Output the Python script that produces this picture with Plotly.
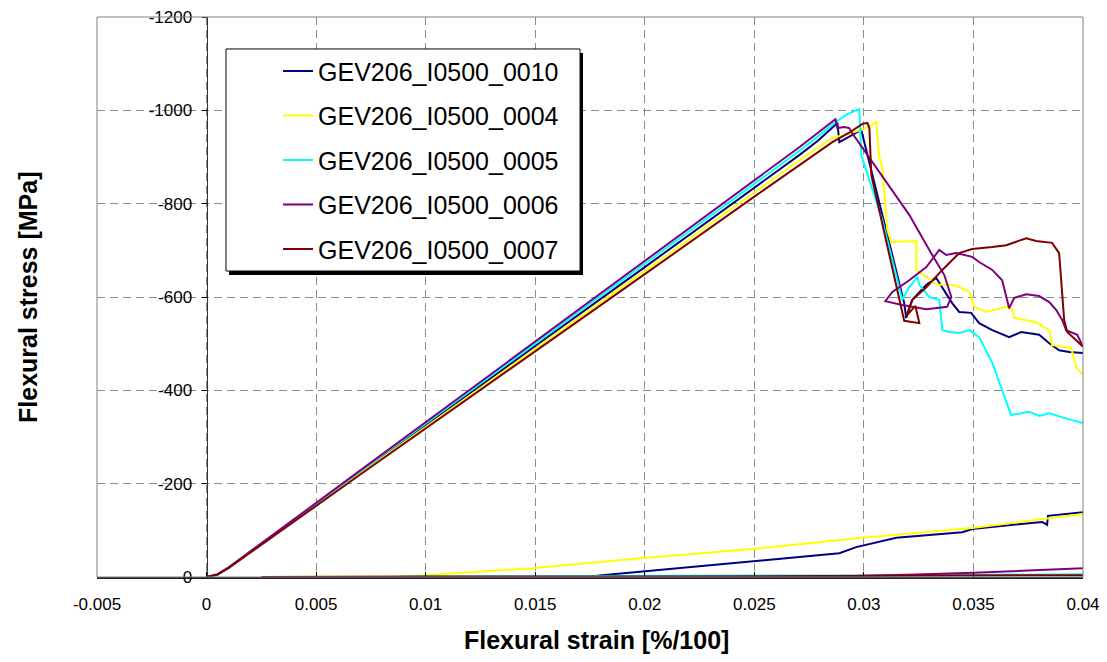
import plotly.graph_objects as go

# ---------------- data ----------------
SERIES_NAMES = ["GEV206_I0500_0010", "GEV206_I0500_0004", "GEV206_I0500_0005",
                "GEV206_I0500_0006", "GEV206_I0500_0007"]
COLORS = ["#000080", "#FFFF00", "#00FFFF", "#800080", "#800000"]

X_TICKS = [-0.005, 0, 0.005, 0.01, 0.015, 0.02, 0.025, 0.03, 0.035, 0.04]
X_TICK_LABELS = ["-0.005", "0", "0.005", "0.01", "0.015", "0.02", "0.025", "0.03", "0.035", "0.04"]
Y_TICKS = [0, -200, -400, -600, -800, -1000, -1200]
Y_TICK_LABELS = ["0", "-200", "-400", "-600", "-800", "-1000", "-1200"]

# GEV206_I0500_0010
X_0010 = [0, 0.0005, 0.001, 0.002, 0.004, 0.007, 0.01, 0.015, 0.02, 0.025, 0.02705, 0.0279,
          0.02879, 0.02888, 0.02947, 0.02988, 0.03184, 0.03193, 0.03221, 0.03285, 0.0333,
          0.03358, 0.03403, 0.03435, 0.0349, 0.03526, 0.03586, 0.03663, 0.03718, 0.038,
          0.03846, 0.03891, 0.03937, 0.04]
Y_0010 = [0, -5, -20, -54, -122, -224, -325, -495, -664, -834, -904, -935,
          -973, -932, -947, -958, -587, -555, -594, -626, -641,
          -621, -587, -568, -566, -544, -529, -514, -525, -519,
          -501, -486, -482, -480]
X_0010_RET = [0.04, 0.0384, 0.03836, 0.03814, 0.03495, 0.03449, 0.03148, 0.02965, 0.02888,
              0.02491, 0.01975, 0.01793, 0.0175]
Y_0010_RET = [-139, -131, -112, -118, -103, -96, -84, -64, -51, -34, -11, -3, 0]

# GEV206_I0500_0004
X_0004 = [0, 0.0005, 0.001, 0.002, 0.004, 0.007, 0.01, 0.015, 0.02, 0.025, 0.02705, 0.02856,
          0.02933, 0.03011, 0.03057, 0.0307, 0.03084, 0.03107, 0.03125, 0.03239, 0.03239,
          0.03285, 0.03335, 0.03403, 0.03435, 0.03481, 0.03504, 0.03558, 0.0365, 0.03677,
          0.03686, 0.03786, 0.03846, 0.03859, 0.03946, 0.03969, 0.04]
Y_0004 = [0, -5, -20, -54, -121, -221, -321, -489, -656, -824, -893, -941,
          -950, -962, -975, -900, -879, -744, -718, -720, -658,
          -643, -626, -626, -621, -611, -579, -568, -579, -572,
          -555, -546, -529, -497, -491, -450, -433]
X_0004_RET = [0.04, 0.03495, 0.02993, 0.02491, 0.02007, 0.01487, 0.01, 0.0088, 0.00265]
Y_0004_RET = [-135, -105, -84, -60, -41, -19, -4, -1, 0]

# GEV206_I0500_0005
X_0005 = [0, 0.0005, 0.001, 0.002, 0.004, 0.007, 0.01, 0.015, 0.02, 0.025, 0.02705, 0.0288,
          0.02924, 0.02947, 0.02979, 0.02988, 0.03084, 0.03175, 0.03207, 0.03244, 0.03253,
          0.03298, 0.03344, 0.03358, 0.0339, 0.03435, 0.03481, 0.03526, 0.03586, 0.03672,
          0.03754, 0.038, 0.03846, 0.03914, 0.04]
Y_0005 = [0, -5, -20, -55, -123, -226, -329, -500, -671, -843, -913, -978,
          -992, -996, -1003, -904, -765, -594, -621, -643, -626,
          -600, -594, -529, -525, -523, -529, -514, -459, -347,
          -354, -345, -351, -341, -330]
X_0005_RET = [0.04, 0.035, 0.03, 0.025, 0.02, 0.015, 0.0088]
Y_0005_RET = [-6, -4, -3, -3, -2, -2, -1]

# GEV206_I0500_0006
X_0006 = [0, 0.0005, 0.001, 0.002, 0.004, 0.007, 0.01, 0.015, 0.02, 0.025, 0.02705, 0.0287,
          0.02879, 0.0291, 0.02933, 0.02947, 0.03079, 0.03207, 0.03298, 0.03367, 0.03399,
          0.0338, 0.03285, 0.03175, 0.03098, 0.0313, 0.03207, 0.03285, 0.03344, 0.03358,
          0.03376, 0.03421, 0.03494, 0.03526, 0.03586, 0.03631, 0.03663, 0.03686, 0.03741,
          0.038, 0.03846, 0.03878, 0.03905, 0.03923, 0.03974, 0.04]
Y_0006 = [0, -6, -20, -55, -124, -228, -332, -505, -677, -850, -921, -981,
          -962, -964, -962, -951, -861, -776, -701, -647, -600,
          -579, -574, -583, -591, -611, -636, -664, -701, -696,
          -690, -694, -686, -675, -658, -636, -576, -598, -606,
          -602, -589, -572, -551, -529, -519, -493]
X_0006_RET = [0.04, 0.0375, 0.035, 0.032, 0.03, 0.0285, 0.025]
Y_0006_RET = [-19, -14, -9, -5, -3, -1, 0]

# GEV206_I0500_0007
X_0007 = [0, 0.0005, 0.001, 0.002, 0.004, 0.007, 0.01, 0.015, 0.02, 0.025, 0.02705, 0.02856,
          0.02933, 0.02993, 0.03016, 0.03025, 0.03034, 0.03184, 0.03253, 0.03235, 0.03193,
          0.03221, 0.03285, 0.03358, 0.03435, 0.03494, 0.03586, 0.0365, 0.03741, 0.03786,
          0.03859, 0.03891, 0.03914, 0.03928, 0.03992, 0.04]
Y_0007 = [0, -5, -19, -53, -119, -219, -318, -484, -649, -815, -883, -932,
          -952, -971, -973, -962, -861, -549, -544, -581, -559,
          -594, -621, -658, -694, -703, -707, -711, -726, -720,
          -716, -694, -551, -525, -497, -493]
X_0007_RET = [0.04, 0.035, 0.03, 0.02, 0.01, 0.0025]
Y_0007_RET = [-4, -3, -2, -1, -1, 0]

SERIES = [
    (X_0010, Y_0010, X_0010_RET, Y_0010_RET),
    (X_0004, Y_0004, X_0004_RET, Y_0004_RET),
    (X_0005, Y_0005, X_0005_RET, Y_0005_RET),
    (X_0006, Y_0006, X_0006_RET, Y_0006_RET),
    (X_0007, Y_0007, X_0007_RET, Y_0007_RET),
]

FONT = "Liberation Sans, Arial, sans-serif"

# ---------------- figure ----------------
fig = go.Figure()
for name, color, (xs, ys, xr, yr) in zip(SERIES_NAMES, COLORS, SERIES):
    fig.add_trace(go.Scatter(
        x=xs + [None] + xr, y=ys + [None] + yr,
        mode="lines", name=name, legendgroup=name,
        line=dict(color=color, width=2), connectgaps=False,
    ))

grid_style = dict(showgrid=True, gridcolor="#8c8c8c", gridwidth=1, griddash="8px,5px")

fig.update_layout(
    width=1107, height=662,
    margin=dict(l=97, r=24, t=17, b=85, autoexpand=False),
    paper_bgcolor="white", plot_bgcolor="white",
    font=dict(family=FONT, color="black"),
    showlegend=True,
    legend=dict(
        x=0.1836, y=0.944, xanchor="left", yanchor="top",
        bgcolor="rgba(0,0,0,0)", borderwidth=0,
        font=dict(size=25, family=FONT, color="black"),
        traceorder="grouped", tracegroupgap=9, itemwidth=30,
    ),
    xaxis=dict(
        range=[-0.005, 0.04], tickmode="array", tickvals=X_TICKS, ticktext=X_TICK_LABELS,
        ticks="inside", ticklen=5, tickcolor="black", automargin=False,
        showline=True, linecolor="#222222", linewidth=2,
        zeroline=False, tickfont=dict(size=17, family=FONT), ticklabelstandoff=11,
        **grid_style,
    ),
    yaxis=dict(
        range=[0, -1200], tickmode="array", tickvals=Y_TICKS, ticktext=Y_TICK_LABELS,
        anchor="free", position=1 / 9, automargin=False,
        ticks="outside", ticklen=5, tickcolor="black",
        showline=True, linecolor="#333333", linewidth=1,
        zeroline=False, tickfont=dict(size=17, family=FONT), ticklabelstandoff=6,
        **grid_style,
    ),
    shapes=[
        # plot-area border
        dict(type="rect", xref="paper", yref="paper", x0=0, x1=1, y0=0, y1=1,
             line=dict(color="#808080", width=1), fillcolor="rgba(0,0,0,0)", layer="above"),
        # legend shadow
        dict(type="rect", xref="paper", yref="paper", x0=0.1339, x1=0.4929, y0=0.5393, y1=0.9357,
             line=dict(width=0), fillcolor="black", layer="above"),
        # legend box
        dict(type="rect", xref="paper", yref="paper", x0=0.1308, x1=0.4899, y0=0.5464, y1=0.9429,
             line=dict(color="black", width=1), fillcolor="white", layer="above"),
    ],
    annotations=[
        dict(text="<b>Flexural strain [%/100]</b>", xref="paper", yref="paper",
             x=0.507, y=-0.1125, xanchor="center", yanchor="middle", showarrow=False,
             font=dict(size=25, family=FONT, color="black")),
        dict(text="<b>Flexural stress [MPa]</b>", xref="paper", yref="paper",
             x=-0.070, y=0.5, xanchor="center", yanchor="middle", showarrow=False,
             textangle=-90, font=dict(size=25, family=FONT, color="black")),
    ],
)

fig.write_html("out.html", config={"displayModeBar": False},
               post_script="document.body.style.margin='0px';")
